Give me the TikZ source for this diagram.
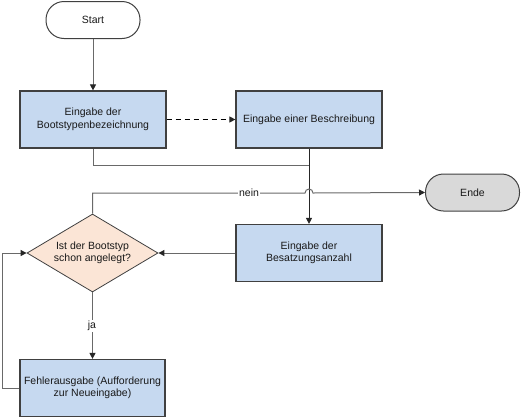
\documentclass[tikz,border=0pt]{standalone}
\usepackage{fontspec}
\setmainfont{Liberation Sans}
\usetikzlibrary{arrows.meta,shapes.geometric}

\definecolor{boxblue}{RGB}{198,217,240}
\definecolor{peach}{RGB}{251,229,214}
\definecolor{endgray}{RGB}{217,217,217}
\definecolor{rim}{RGB}{64,64,64}
\definecolor{wire}{RGB}{105,105,105}

\tikzset{
	x=1pt, y=1pt,
	every node/.style={font=\fontsize{10.5}{12.5}\selectfont, text=black!90, align=center},
	stepbox/.style={draw=rim, line width=1.2pt, fill=boxblue, minimum width=146pt, minimum height=57pt, inner sep=0pt},
	terminal/.style={draw=rim, line width=1pt, rounded corners=18pt, minimum width=94pt, minimum height=37pt},
	query/.style={diamond, draw=rim, line width=0.8pt, fill=peach, aspect=1.68, inner sep=0pt, minimum width=131pt, minimum height=78pt},
	link/.style={draw=wire, line width=1pt, -{Triangle[length=6pt,width=6pt,color=black!85]}},
}

\begin{document}
\begin{tikzpicture}
		%%%%% START %%%%%
		\useasboundingbox (0, 0) rectangle (521, -418);
		
		\node[terminal] (start) at (93, -20) {Start};
		\node[stepbox] (name) at (93, -119.5) {Eingabe der\\Bootstypenbezeichnung};
		\node[stepbox] (desc) at (309, -119.5) {Eingabe einer Beschreibung};
		\node[stepbox] (crew) at (309, -253) {Eingabe der\\Besatzungsanzahl};
		\node[query] (check) at (92.5, -253) {Ist der Bootstyp\\schon angelegt?};
		\node[stepbox, minimum width=145pt] (error) at (92.5, -388) {Fehlerausgabe (Aufforderung\\zur Neueingabe)};
		\node[terminal, fill=endgray] (stop) at (472.5, -192.5) {Ende};
		
		\coordinate (merge) at (309, -165);
		
		\draw[link] (start) -- (name);
		\draw[link, draw=black, dash pattern=on 5pt off 4pt] (name) -- (desc);
		\draw[draw=wire, line width=1pt] (name.south) |- (merge);
		\draw[link, draw=black!85] (desc) -- (crew);
		\draw[link] (crew) -- (check);
		
		% nein branch, hopping over the vertical line
		\draw[link] (check.north) |- (305, -193) arc (180:0:4) -- (stop.west);
		\node[fill=white, inner sep=1pt] (nein) at (249, -193) {nein};
		
		\draw[link] (check.south) -- (error.north);
		\node[fill=white, inner sep=1pt] (ja) at (92, -326) {ja};
		
		\draw[link] (error.west) -- (2, -388) |- (check.west);
		%%%%% END %%%%%
	\end{tikzpicture}
\end{document}
